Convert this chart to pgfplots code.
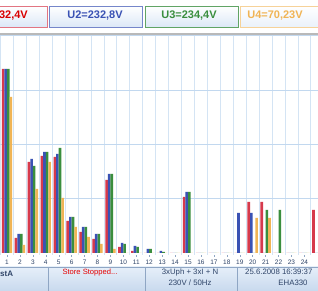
\documentclass[border=0pt]{standalone}
\usepackage{pgfplots}
\pgfplotsset{compat=1.18}
\usepackage{pgfplotstable}
\usepackage{fontspec}
\setmainfont{Liberation Sans}
\definecolor{cR}{HTML}{D63A4C}
\definecolor{cB}{HTML}{3A52B4}
\definecolor{cG}{HTML}{3A8E3E}
\definecolor{cO}{HTML}{F0B455}
\definecolor{gridc}{HTML}{D4E4F4}
\definecolor{gridh}{HTML}{C2D8EF}
\definecolor{stat}{HTML}{2E4468}
\definecolor{hdrfill}{HTML}{DCE8F7}
\definecolor{barfillT}{HTML}{E6EFF9}
\definecolor{barfillB}{HTML}{C8D9EE}
\definecolor{sepc}{HTML}{8FA6C4}
\pgfplotstableread{
h R B G O
1 184 184 184 156
2 15 19 19 8
3 91 94 87 64
4 97 101 101 91
5 96 99 105 55
6 32 36 36 26
7 21 26 26 16
8 14 19 19 9
9 73 79 79 4
10 6 10 9 0
11 2 7 6 0
12 0 4 4 0
13 0 2 1 0
14 0 0 0 0
15 56 61 61 0
16 0 0 0 0
17 0 0 0 0
18 0 0 0 0
19 0 40 0 0
20 51 40 0 35
21 51 0 43 35
22 0 0 43 0
23 0 0 0 0
24 0 0 0 0
25 43 0 0 0
}\harm
\begin{document}
\begin{tikzpicture}[x=1pt,y=1pt]
\useasboundingbox (0,0) rectangle (318,291);
\clip (0,0) rectangle (318,291);
\fill[white] (0,0) rectangle (318,291);
% header boxes
\shade[top color=white, bottom color=hdrfill] (-10,264) rectangle (47,285);
\draw[cR!70, line width=0.8pt] (-10,264) rectangle (47,285);
\shade[top color=white, bottom color=hdrfill] (49,264) rectangle (142,285);
\draw[cB!70, line width=0.8pt] (49,264) rectangle (142,285);
\shade[top color=white, bottom color=hdrfill] (145,264) rectangle (238,285);
\draw[cG!80, line width=0.8pt] (145,264) rectangle (238,285);
\shade[top color=white, bottom color=hdrfill!60] (240,264) rectangle (330,285);
\draw[cO!60, line width=0.8pt] (240,264) rectangle (330,285);
\node[anchor=east, text=red!85!black, font=\fontsize{11}{12}\selectfont\bfseries, inner sep=0pt] at (28,275.5) {U1=232,4V};
\node[text=cB, font=\fontsize{11}{12}\selectfont\bfseries, inner sep=0pt] at (95,275.5) {U2=232,8V};
\node[text=cG, font=\fontsize{11}{12}\selectfont\bfseries, inner sep=0pt] at (189,275.5) {U3=234,4V};
\node[text=cO, font=\fontsize{11}{12}\selectfont\bfseries, inner sep=0pt] at (275,275.5) {U4=70,23V};
% top grey line
\fill[gray!55] (0,256) rectangle (318,258);
\begin{axis}[
  at={(0,36)}, anchor=south west,
  width=318pt, height=220pt, scale only axis,
  xmin=0.459, xmax=25.05, ymin=-2, ymax=218,
  ybar=0pt, bar width=2.6pt,
  axis line style={draw=none},
  xtick={1,...,24},
  xtick pos=bottom,
  tick align=outside,
  major tick length=2pt,
  minor tick length=0pt,
  xtick style={color=sepc, line width=0.4pt},
  minor xtick={0.5,1.5,...,25.5},
  xminorgrids,
  minor grid style={gridc, line width=0.9pt},
  ytick={54.3,108.6,162.9,217.2},
  yticklabels={},
  ytick style={draw=none},
  ymajorgrids,
  major grid style={gridh, line width=0.9pt},
  xticklabel style={font=\fontsize{6.5}{7}\selectfont, text=stat, inner sep=1pt, yshift=-1.5pt},
  /pgf/number format/assume math mode=true,
  clip=true,
]
\addplot[fill=cR, draw=none] table[x=h,y=R]{\harm};
\addplot[fill=cB, draw=none] table[x=h,y=B]{\harm};
\addplot[fill=cG, draw=none] table[x=h,y=G]{\harm};
\addplot[fill=cO, draw=none] table[x=h,y=O]{\harm};
\end{axis}
% status bar
\shade[top color=barfillT, bottom color=barfillB] (0,0) rectangle (318,24);
\draw[sepc, line width=0.7pt] (0,24) -- (318,24);
\draw[sepc, line width=0.7pt] (48,0) -- (48,24);
\draw[sepc, line width=0.7pt] (145,0) -- (145,24);
\draw[sepc, line width=0.7pt] (237,0) -- (237,24);
\node[anchor=west, text=stat, font=\fontsize{8}{9}\selectfont\bfseries, inner sep=0pt] at (0,17) {stA};
\node[text=red!90!black, font=\fontsize{7.6}{9}\selectfont, inner sep=0pt] at (90,18) {Store Stopped...};
\node[text=stat, font=\fontsize{7.8}{9}\selectfont, inner sep=0pt] at (190,19) {3xUph + 3xI + N};
\node[text=stat, font=\fontsize{7.8}{9}\selectfont, inner sep=0pt] at (190,8) {230V / 50Hz};
\node[anchor=west, text=stat, font=\fontsize{7.8}{9}\selectfont, inner sep=0pt] at (245,19) {25.6.2008 16:39:37};
\node[text=stat, font=\fontsize{7.8}{9}\selectfont, inner sep=0pt] at (293,8) {EHA330};
\end{tikzpicture}
\end{document}
